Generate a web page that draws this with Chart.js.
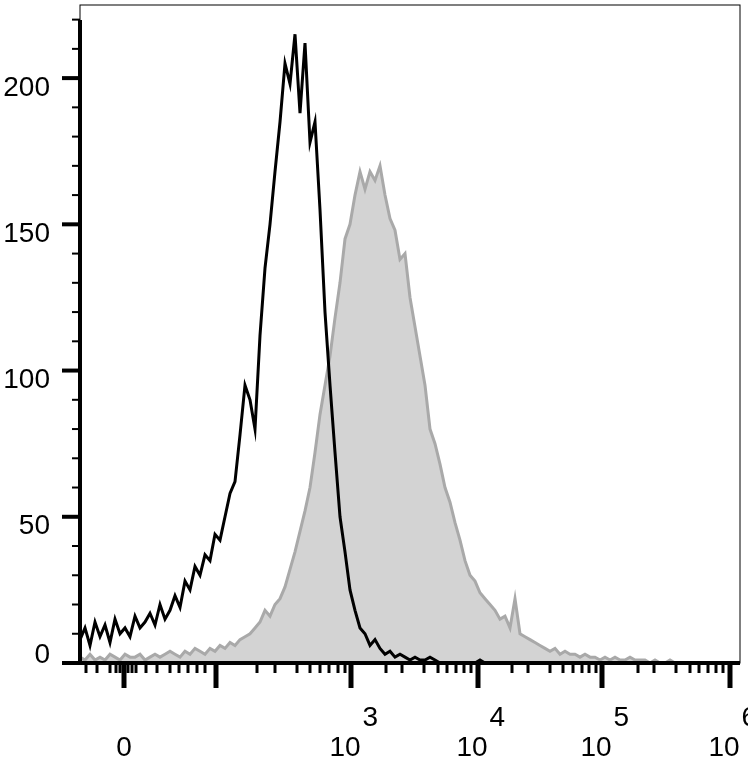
<!DOCTYPE html>
<html>
<head>
<meta charset="utf-8">
<script src="https://cdn.jsdelivr.net/npm/chart.js@4"></script>
<style>
  body { margin: 0; background: #fff; }
  #wrap { width: 748px; height: 773px; }
</style>
</head>
<body>
<div id="wrap"><canvas id="histChart"></canvas></div>
<script>
// channel = display position along the biexponential axis (0..660)
const channels = [];
for (let c = 0; c <= 660; c += 5) channels.push(c);

const stainedCounts = [8,12,6,14,9,13,7,15,10,12,9,16,12,14,17,13,20,15,18,23,19,28,25,33,30,37,35,44,42,50,58,62,78,95,90,80,112,135,150,168,185,205,198,215,188,212,178,185,155,120,95,72,50,38,25,18,12,10,6,8,5,3,4,2,3,2,1,2,1,1,2,1,0,0,0,0,0,0,0,0,1,0,0,0,0,0,0,0,0,0,0,0,0,0,0,0,0,0,0,0,0,0,0,0,0,0,0,0,0,0,0,0,0,0,0,0,0,0,0,0,0,0,0,0,0,0,0,0,0,0,0,0,0];
const controlCounts = [2,1,3,1,2,1,3,2,1,3,2,2,3,1,2,3,2,3,4,3,2,4,3,5,4,3,5,4,6,5,7,6,8,9,10,12,14,18,16,20,22,26,32,38,45,52,60,72,85,95,105,118,130,145,150,160,168,162,168,165,170,160,152,148,138,140,125,115,105,95,80,75,68,60,55,48,42,35,30,28,24,22,20,18,15,16,12,22,10,9,8,7,6,5,4,5,3,4,3,3,2,3,2,2,1,2,1,2,1,1,2,1,1,1,0,1,0,0,1,0,0,0,0,0,0,0,0,0,0,0,0,0,0];

const yTickLabels = [0, 50, 100, 150, 200];
const xMajorTicks = [44, 136, 271, 398, 522, 650];
const xMajorLabels = [["0", ""], null, ["10", "3"], ["10", "4"], ["10", "5"], ["10", "6"]];
const xMinorTicks = [6, 17, 30, 36, 40, 48, 52, 56, 66, 77, 90, 99, 108, 117, 125,
  177, 195, 217, 230, 240, 249, 258, 265,
  306, 322, 344, 358, 367, 376, 384, 391,
  432, 448, 470, 483, 493, 502, 509, 516,
  558, 574, 596, 610, 619, 628, 636, 643];

const FONT = "28px 'Liberation Sans', Arial, sans-serif";

const axesPlugin = {
  id: "flowAxes",
  afterDraw(chart) {
    const { ctx, chartArea: a, scales } = chart;
    const xs = scales.x, ys = scales.y;
    ctx.save();
    ctx.strokeStyle = "#000";
    ctx.lineWidth = 1;
    ctx.strokeRect(a.left, a.top, a.right - a.left, a.bottom - a.top);
    ctx.lineWidth = 4;
    ctx.beginPath();
    ctx.moveTo(a.left, a.top + 15); ctx.lineTo(a.left, a.bottom + 2);
    ctx.moveTo(a.left - 2, a.bottom); ctx.lineTo(a.right, a.bottom);
    ctx.stroke();
    // y ticks
    ctx.font = FONT;
    ctx.fillStyle = "#000";
    ctx.textAlign = "right";
    ctx.textBaseline = "middle";
    for (let v = 0; v <= 220; v += 10) {
      const y = ys.getPixelForValue(v);
      const major = yTickLabels.includes(v);
      ctx.lineWidth = major ? 4 : 2;
      ctx.beginPath();
      ctx.moveTo(a.left - (major ? 18 : 8), y); ctx.lineTo(a.left, y);
      ctx.stroke();
      if (major) ctx.fillText(String(v), a.left - 30, y + (v === 0 ? -8 : 10));
    }
    // x ticks
    ctx.textBaseline = "alphabetic";
    ctx.lineWidth = 3;
    xMinorTicks.forEach(c => {
      const x = xs.getPixelForValue(c);
      ctx.beginPath(); ctx.moveTo(x, a.bottom); ctx.lineTo(x, a.bottom + 10); ctx.stroke();
    });
    ctx.lineWidth = 5;
    xMajorTicks.forEach((c, i) => {
      const x = xs.getPixelForValue(c);
      ctx.beginPath(); ctx.moveTo(x, a.bottom); ctx.lineTo(x, a.bottom + 25); ctx.stroke();
      const lab = xMajorLabels[i];
      if (!lab) return;
      ctx.textAlign = "center";
      ctx.font = FONT;
      const w = ctx.measureText(lab[0]).width;
      const off = lab[1] ? -6 : 0;
      ctx.fillText(lab[0], x + off, 756);
      if (lab[1]) {
        ctx.textAlign = "left";
        ctx.fillText(lab[1], x + off + w / 2 + 2, 726);
      }
    });
    ctx.restore();
  }
};

new Chart(document.getElementById("histChart"), {
  type: "line",
  data: {
    labels: channels,
    datasets: [
      {
        label: "Control",
        data: controlCounts,
        borderColor: "#a9a9a9",
        backgroundColor: "#d3d3d3",
        borderWidth: 3,
        fill: "origin",
        pointRadius: 0,
        tension: 0,
        order: 2,
      },
      {
        label: "Stained",
        data: stainedCounts,
        borderColor: "#000",
        borderWidth: 3,
        fill: false,
        pointRadius: 0,
        tension: 0,
        order: 1,
      },
    ],
  },
  plugins: [axesPlugin],
  options: {
    responsive: true,
    maintainAspectRatio: false,
    animation: false,
    layout: { padding: { left: 80, right: 8, top: 5, bottom: 110 } },
    plugins: { legend: { display: false }, tooltip: { enabled: false } },
    scales: {
      x: { type: "linear", min: 0, max: 660, display: false },
      y: { min: 0, max: 225, display: false },
    },
  },
});
</script>
</body>
</html>
